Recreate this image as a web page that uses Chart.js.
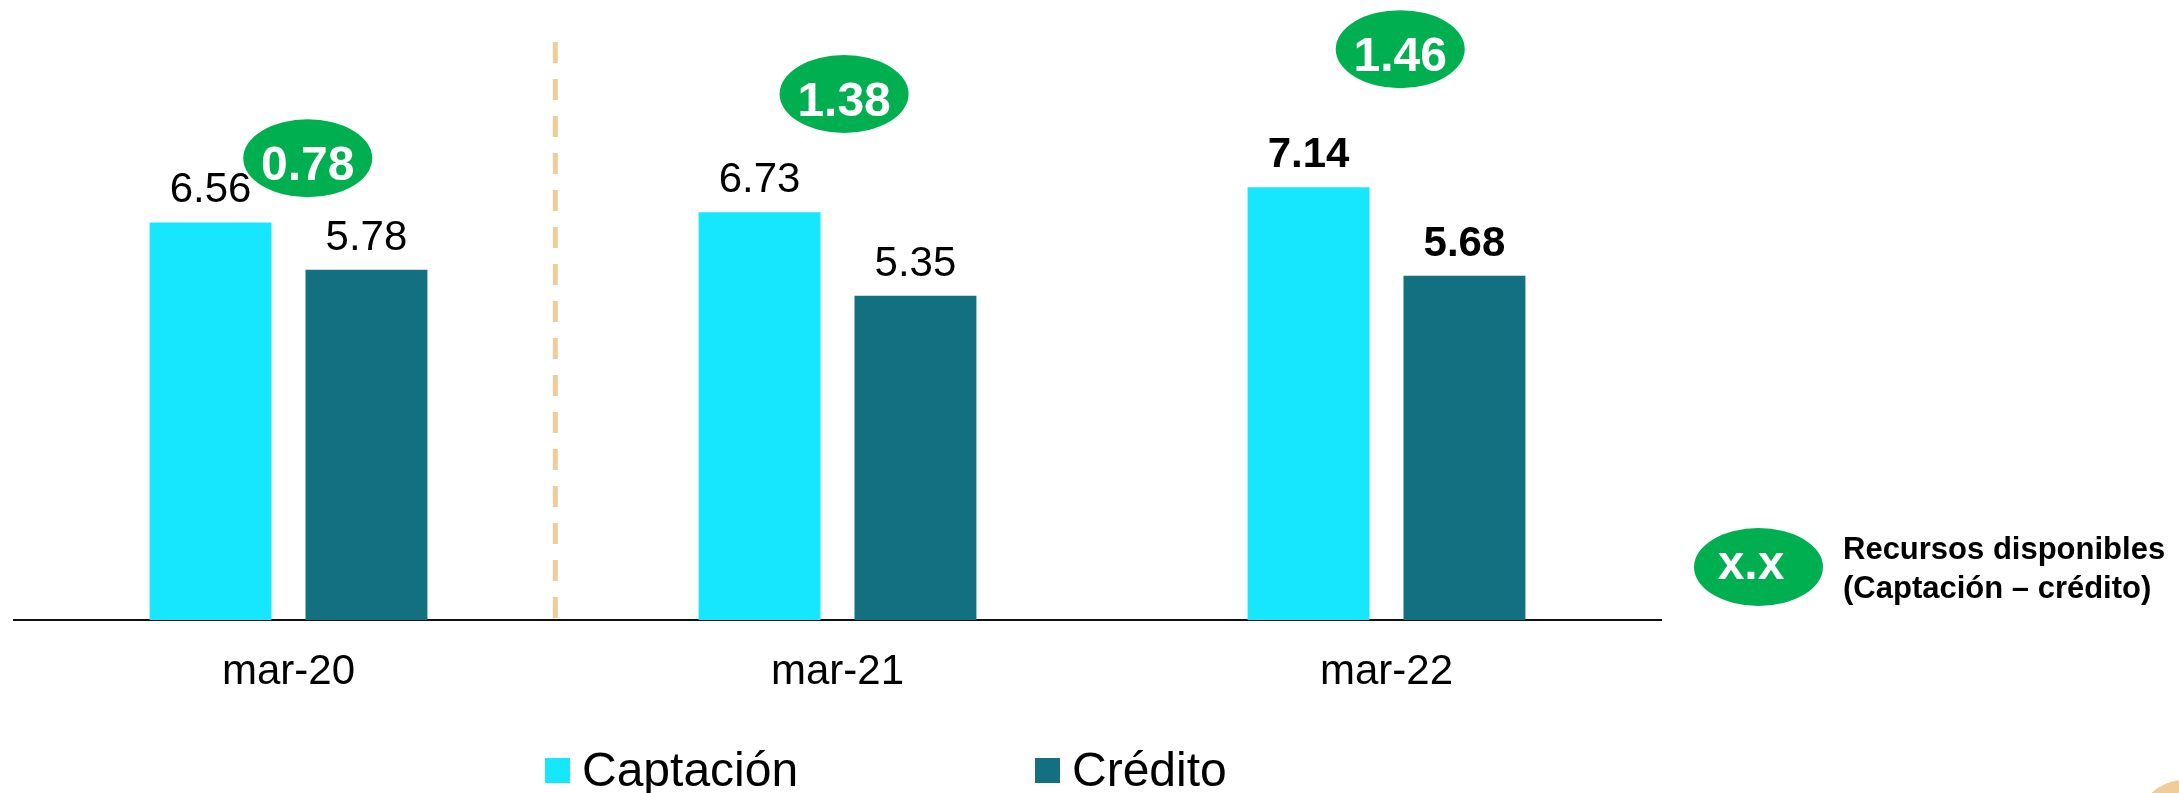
<!DOCTYPE html>
<html lang="es">
<head>
<meta charset="utf-8">
<title>Captación vs Crédito</title>
<script src="https://cdn.jsdelivr.net/npm/chart.js@4/dist/chart.umd.min.js"></script>
<style>
  html, body { margin: 0; padding: 0; background: #fff; }
  canvas { display: block; }
</style>
</head>
<body>
<canvas id="chart" width="2179" height="793"></canvas>
<script>
// Data
const categories = ['mar-20', 'mar-21', 'mar-22'];
const captacion = [6.56, 6.73, 7.14];
const credito = [5.78, 5.35, 5.68];
const recursos = [0.78, 1.38, 1.46];   // captación - crédito
const seriesNames = ['Captación', 'Crédito'];
const keyBadge = 'x.x';
const keyLines = ['Recursos disponibles', '(Captación – crédito)'];

const FONT = '"Liberation Sans", Arial, Helvetica, sans-serif';
const CYAN = '#17E7FE';
const TEAL = '#127080';
const GREEN = '#00B050';
const SAND = '#F0CC98';

// value labels above bars
const valueLabels = {
    id: 'valueLabels',
    afterDatasetsDraw(chart, args, opts) {
        const ctx = chart.ctx;
        ctx.save();
        ctx.fillStyle = '#000';
        ctx.textAlign = 'center';
        ctx.textBaseline = 'alphabetic';
        chart.data.datasets.forEach((ds, d) => {
            chart.getDatasetMeta(d).data.forEach((bar, i) => {
                const bold = i >= opts.boldFrom ? 'bold ' : '';
                ctx.font = bold + '42px ' + FONT;
                ctx.fillText(ds.data[i].toFixed(2), bar.x, bar.y - 20);
            });
        });
        ctx.restore();
    }
};

// green ellipses with the difference
const diffBubbles = {
    id: 'diffBubbles',
    afterDatasetsDraw(chart, args, opts) {
        const ctx = chart.ctx;
        const xs = chart.scales.x, ys = chart.scales.y;
        ctx.save();
        recursos.forEach((v, i) => {
            const at = opts.at[i];
            const cx = xs.getPixelForValue(i + at[0]);
            const cy = ys.getPixelForValue(at[1]);
            ctx.fillStyle = GREEN;
            ctx.beginPath();
            ctx.ellipse(cx, cy, 64.5, 39, 0, 0, Math.PI * 2);
            ctx.fill();
            ctx.fillStyle = '#fff';
            ctx.font = 'bold 48px ' + FONT;
            ctx.textAlign = 'center';
            ctx.textBaseline = 'alphabetic';
            ctx.fillText(v.toFixed(2), cx, cy + 22);
        });
        ctx.restore();
    }
};

// dashed separator between mar-20 and mar-21
const separator = {
    id: 'separator',
    beforeDatasetsDraw(chart, args, opts) {
        const ctx = chart.ctx;
        const x = chart.scales.x.getPixelForValue(opts.at);
        const top = chart.scales.y.getPixelForValue(opts.top);
        const bottom = chart.scales.y.getPixelForValue(0);
        ctx.save();
        ctx.strokeStyle = SAND;
        ctx.lineWidth = 5;
        ctx.setLineDash([21, 16]);
        ctx.beginPath();
        ctx.moveTo(x, top);
        ctx.lineTo(x, bottom);
        ctx.stroke();
        ctx.restore();
    }
};

// bottom legend + key on the right
const legendAndKey = {
    id: 'legendAndKey',
    afterDraw(chart, args, opts) {
        const ctx = chart.ctx;
        ctx.save();
        ctx.textAlign = 'left';
        ctx.textBaseline = 'alphabetic';
        chart.data.datasets.forEach((ds, d) => {
            const x = opts.itemX[d];
            ctx.fillStyle = ds.backgroundColor;
            ctx.fillRect(x, 758, 25, 25);
            ctx.fillStyle = '#000';
            ctx.font = '48px ' + FONT;
            ctx.fillText(ds.label, x + 37, 786);
        });

        // key: badge + explanation
        ctx.fillStyle = GREEN;
        ctx.beginPath();
        ctx.ellipse(1758.5, 567, 64.5, 39, 0, 0, Math.PI * 2);
        ctx.fill();
        ctx.fillStyle = '#fff';
        ctx.font = 'bold 48px ' + FONT;
        ctx.textAlign = 'center';
        ctx.fillText(keyBadge, 1751, 579);
        ctx.fillStyle = '#000';
        ctx.font = 'bold 31px ' + FONT;
        ctx.textAlign = 'left';
        ctx.fillText(keyLines[0], 1843, 559);
        ctx.fillText(keyLines[1], 1843, 598);

        // slide decoration peeking in the corner
        ctx.fillStyle = SAND;
        ctx.beginPath();
        ctx.arc(2185, 830, 50, 0, Math.PI * 2);
        ctx.fill();
        ctx.restore();
    }
};

new Chart(document.getElementById('chart'), {
    type: 'bar',
    data: {
        labels: categories,
        datasets: [
            {
                label: seriesNames[0],
                data: captacion,
                backgroundColor: CYAN,
                categoryPercentage: 0.568,
                barPercentage: 0.782
            },
            {
                label: seriesNames[1],
                data: credito,
                backgroundColor: TEAL,
                categoryPercentage: 0.568,
                barPercentage: 0.782
            }
        ]
    },
    options: {
        responsive: false,
        animation: false,
        layout: {
            padding: { left: 14, right: 518, top: 14, bottom: 0 }
        },
        scales: {
            x: {
                grid: { display: false, drawTicks: false },
                border: { display: true, color: '#111', width: 2 },
                ticks: {
                    color: '#000',
                    font: { family: FONT, size: 42 },
                    padding: 27
                },
                afterFit: (scale) => { scale.height = 173; }
            },
            y: {
                display: false,
                min: 0,
                max: 10
            }
        },
        plugins: {
            legend: { display: false },
            tooltip: { enabled: false },
            valueLabels: { boldFrom: 2 },
            diffBubbles: { at: [[0.035, 7.62], [0.012, 8.68], [0.025, 9.42]] },
            separator: { at: 0.486, top: 9.54 },
            legendAndKey: { itemX: [545, 1035] }
        }
    },
    plugins: [separator, valueLabels, diffBubbles, legendAndKey]
});
</script>
</body>
</html>
